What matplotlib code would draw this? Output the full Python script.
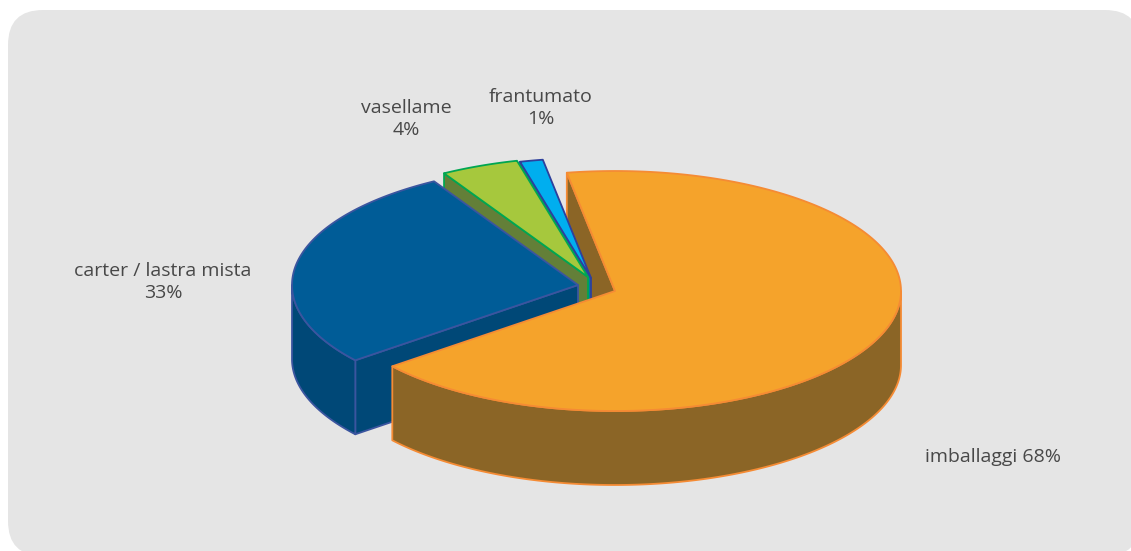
import numpy as np
import matplotlib
matplotlib.use("Agg")
import matplotlib.pyplot as plt
from matplotlib.patches import FancyBboxPatch, Polygon

# order is counter clockwise from the start angle, as the slices are drawn
categories = ["frantumato", "vasellame", "carter / lastra mista", "imballaggi"]
shares = [1.3, 4.4, 27.4, 66.9]
labels = ["frantumato\n1%", "vasellame\n4%", "carter / lastra mista\n33%", "imballaggi 68%"]

top_colors = ["#00AEEF", "#A6C83D", "#005C97", "#F5A32B"]
side_colors = ["#0079A8", "#637F38", "#004877", "#8B6526"]
edge_colors = ["#2E409C", "#00A651", "#3B559F", "#F58B34"]

# slice centres differ because the pie is exploded
centres = [(591, 278), (588, 277), (578, 285), (615, 291)]
label_pos = [(541, 108), (406, 119), (163, 282), (993, 457)]

START = 99.7
RX, RY = 286, 120
DEPTH = 74

plt.rcParams["font.family"] = ["Open Sans", "DejaVu Sans"]

fig = plt.figure(figsize=(11.31, 5.51), dpi=100, facecolor="white")
ax = fig.add_axes([0, 0, 1, 1])
ax.set_xlim(0, 1131)
ax.set_ylim(551, 0)
ax.axis("off")

ax.add_patch(FancyBboxPatch((43, 45), 1062, 476, boxstyle="round,pad=35,rounding_size=35",
                            fc="#E5E5E5", ec="none", zorder=0))


def rim(c, a0, a1, drop=0):
    t = np.radians(np.linspace(a0, a1, 200))
    return np.column_stack([c[0] + RX * np.cos(t), c[1] - RY * np.sin(t) + drop])


ends = START + np.cumsum(shares) * 3.6
starts = np.concatenate([[START], ends[:-1]])

# inner wall of the big slice sits behind all the others
order = [3, 0, 1, 2, 3]
z = 1
for n, i in enumerate(order):
    c = centres[i]
    a0, a1 = starts[i], ends[i]

    # radial wall on the end edge
    if n == 0 or i != 3:
        e = rim(c, a1, a1)[0]
        wall = [e, c, (c[0], c[1] + DEPTH), (e[0], e[1] + DEPTH)]
        ax.add_patch(Polygon(wall, fc=side_colors[i], ec=edge_colors[i], lw=1.3, joinstyle="round", zorder=z))
        z += 1
    if n == 0:
        continue

    # outer wall, only the part turned to the front
    lo, hi = max(a0, 180), min(a1, 360)
    if hi > lo:
        outer = np.vstack([rim(c, lo, hi), rim(c, hi, lo, DEPTH)])
        ax.add_patch(Polygon(outer, fc=side_colors[i], ec=edge_colors[i], lw=1.3, joinstyle="round", zorder=z))
        z += 1

    top = np.vstack([[c], rim(c, a0, a1)])
    ax.add_patch(Polygon(top, fc=top_colors[i], ec=edge_colors[i], lw=1.3, joinstyle="round", zorder=z))
    z += 1

for lab, pos in zip(labels, label_pos):
    ax.text(pos[0], pos[1], lab, ha="center", va="center", fontsize=14, color="#484848",
            linespacing=1.25, zorder=20)

fig.savefig("out.png", dpi=100, facecolor="white")
